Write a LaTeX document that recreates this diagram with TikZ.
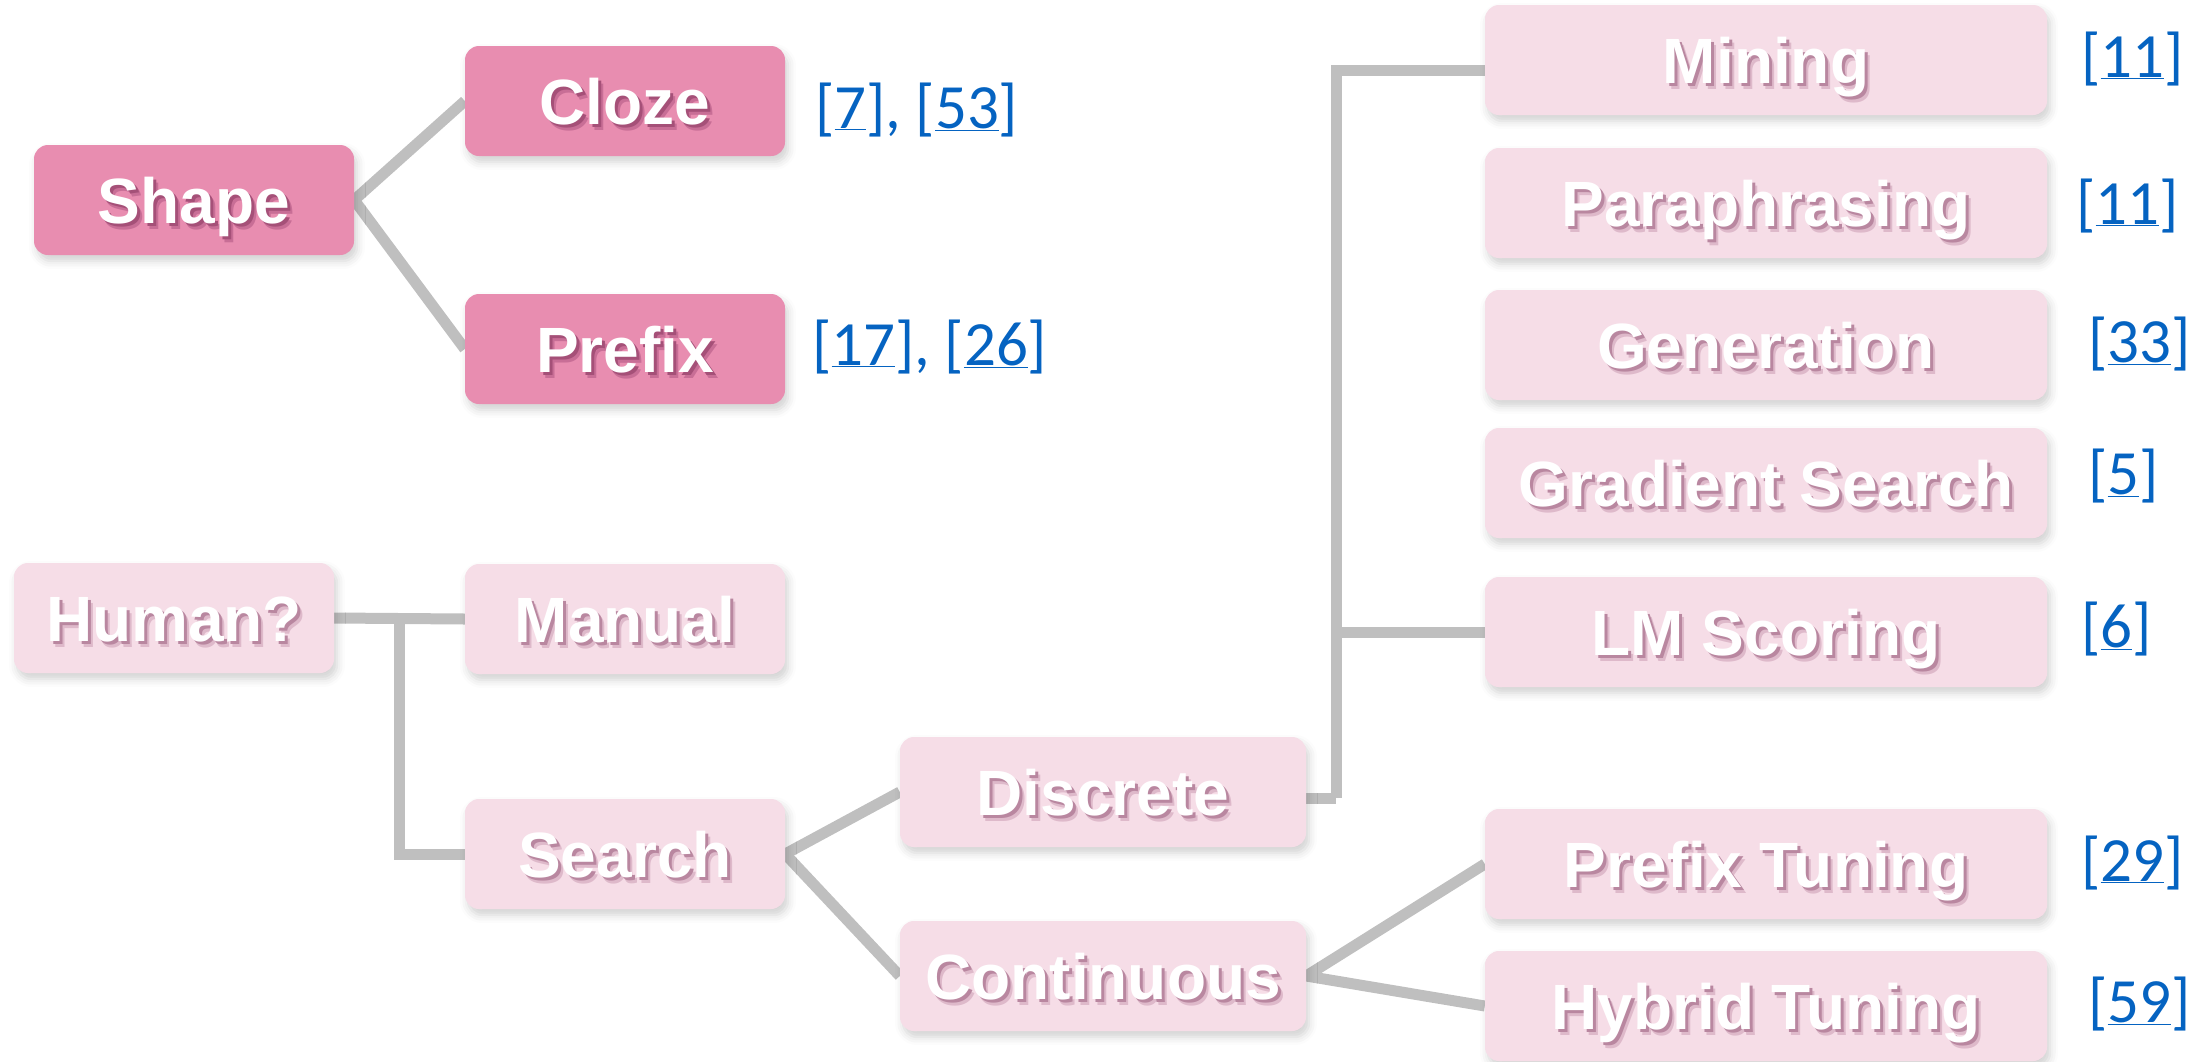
\documentclass[tikz,border=0pt]{standalone}
\usepackage{fontspec}
\setmainfont{Liberation Sans}
\newfontfamily\citefont{Carlito}
\usetikzlibrary{calc,shadows.blur}

\definecolor{darkpink}{RGB}{232,141,176}
\definecolor{lightpink}{RGB}{246,221,231}
\definecolor{darkshadeA}{RGB}{200,110,150}
\definecolor{darkshadeB}{RGB}{165,80,120}
\definecolor{lightshadeA}{RGB}{222,185,202}
\definecolor{lightshadeB}{RGB}{185,135,160}
\definecolor{linkgray}{RGB}{191,191,191}
\definecolor{citeblue}{RGB}{5,99,193}

\pgfdeclarelayer{background}
\pgfsetlayers{background,main}

% white label with a soft two-step offset shadow underneath
\newcommand{\shadowlabel}[3]{%
  \makebox[0pt][l]{\hspace{5pt}\raisebox{-6pt}{\textcolor{#1}{#3}}}%
  \makebox[0pt][l]{\hspace{3pt}\raisebox{-3.5pt}{\textcolor{#2}{#3}}}%
  \textcolor{white}{#3}}
\newcommand{\dlab}[1]{\shadowlabel{darkshadeA}{darkshadeB}{#1}}
\newcommand{\llab}[1]{\shadowlabel{lightshadeA}{lightshadeB}{#1}}

\tikzset{
  box/.style={rounded corners=14pt, minimum height=110pt, inner sep=0pt,
    text height=46pt, text depth=0pt,
    font=\fontsize{64}{70}\selectfont\bfseries,
    blur shadow={shadow xshift=3pt, shadow yshift=-6pt, shadow opacity=18, shadow blur radius=8pt}},
  darkbox/.style={box, fill=darkpink},
  lightbox/.style={box, fill=lightpink},
  wsmall/.style={minimum width=320pt},
  wmid/.style={minimum width=406pt},
  wlarge/.style={minimum width=562pt},
  link/.style={draw=linkgray, line width=11pt},
  cite/.style={anchor=west, inner sep=0pt, text=citeblue, text height=44pt, text depth=14pt,
    font=\citefont\fontsize{63}{70}\selectfont},
}

\begin{document}
\begin{tikzpicture}[x=1pt, y=-1pt]
\useasboundingbox (0,0) rectangle (2211,1061);

% prompt shape
\node[darkbox, wsmall] (shape)  at (194,200) {\dlab{Shape}};
\node[darkbox, wsmall] (cloze)  at (625,101) {\dlab{Cloze}};
\node[darkbox, wsmall] (prefix) at (625,349) {\dlab{Prefix}};

% human effort
\node[lightbox, wsmall] (human)  at (174,618) {\llab{Human?}};
\node[lightbox, wsmall] (manual) at (625,619) {\llab{Manual}};
\node[lightbox, wsmall] (search) at (625,854) {\llab{Search}};

\node[lightbox, wmid] (discrete)   at (1103,792) {\llab{Discrete}};
\node[lightbox, wmid] (continuous) at (1103,976) {\llab{Continuous}};

\node[lightbox, wlarge] (mining)   at (1766,60)   {\llab{Mining}};
\node[lightbox, wlarge] (para)     at (1766,203)  {\llab{Paraphrasing}};
\node[lightbox, wlarge] (gen)      at (1766,345)  {\llab{Generation}};
\node[lightbox, wlarge] (grad)     at (1766,483)  {\llab{Gradient Search}};
\node[lightbox, wlarge] (lms)      at (1766,632)  {\llab{LM Scoring}};
\node[lightbox, wlarge] (ptune)    at (1766,864)  {\llab{Prefix Tuning}};
\node[lightbox, wlarge] (htune)    at (1766,1006) {\llab{Hybrid Tuning}};

% references
\node[cite] (cCloze)  at (815,113)  {[\underline{7}], [\underline{53}]};
\node[cite] (cPrefix) at (812,350)  {[\underline{17}], [\underline{26}]};
\node[cite] (cMin)    at (2081,62)  {[\underline{11}]};
\node[cite] (cPara)   at (2076,209) {[\underline{11}]};
\node[cite] (cGen)    at (2088,347) {[\underline{33}]};
\node[cite] (cGrad)   at (2088,479) {[\underline{5}]};
\node[cite] (cLms)    at (2081,632) {[\underline{6}]};
\node[cite] (cPt)     at (2081,866) {[\underline{29}]};
\node[cite] (cHt)     at (2088,1007) {[\underline{59}]};

% connectors
\coordinate (hj) at ($(human.east)!0.5!(manual.west)$);
\coordinate (dj) at ([xshift=30pt,yshift=-6pt]discrete.east);
\begin{pgfonlayer}{background}
  \draw[link] (shape.east) -- (cloze.west);
  \draw[link] (shape.east) -- (prefix.west);
  \draw[link] (human.east) -- (manual.west);
  \draw[link] (hj) |- (search.west);
  \draw[link] (search.east) -- (discrete.west);
  \draw[link] (search.east) -- (continuous.west);
  \draw[link] ([yshift=-6pt]discrete.east) -- (dj);
  \draw[link] (dj) |- ([yshift=-10pt]mining.west);
  \draw[link] (dj |- lms.west) -- (lms.west);
  \draw[link] (continuous.east) -- (ptune.west);
  \draw[link] (continuous.east) -- (htune.west);
\end{pgfonlayer}
\end{tikzpicture}
\end{document}
